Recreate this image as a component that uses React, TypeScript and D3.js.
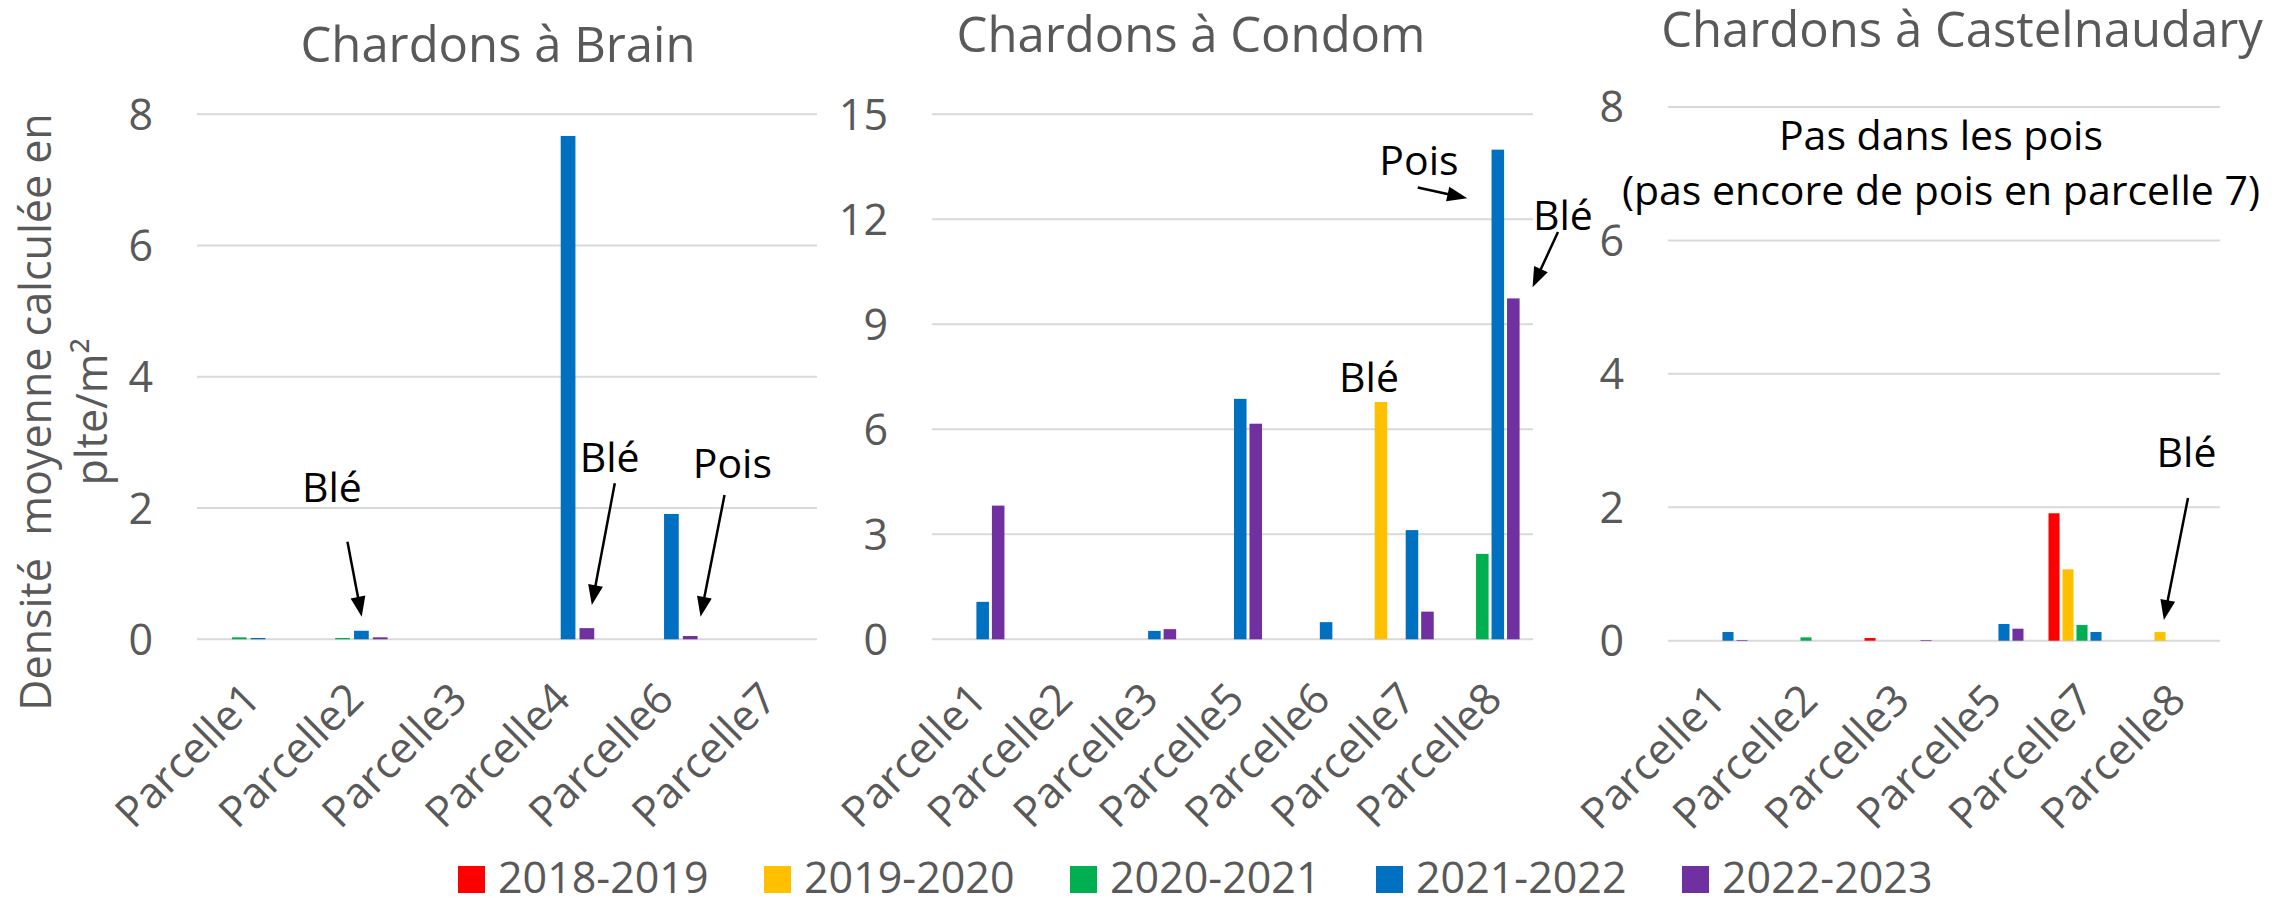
import React from 'react';
import * as d3 from 'd3';

const W = 2293;
const H = 897;
const FONT = "'Open Sans', sans-serif";
const GRAY = '#595959';
const GRID = '#D9D9D9';

// Legend
const legendSeries = ['2018-2019', '2019-2020', '2020-2021', '2021-2022', '2022-2023'];
const legendColors = ['#FF0000', '#FFC000', '#00B050', '#0070C0', '#7030A0'];

// Chardons à Brain
const brainCategories = ['Parcelle1', 'Parcelle2', 'Parcelle3', 'Parcelle4', 'Parcelle6', 'Parcelle7'];
const brainSeries = ['2019-2020', '2020-2021', '2021-2022', '2022-2023'];
const brain2019_2020 = [0, 0, 0, 0, 0, 0];
const brain2020_2021 = [0.03, 0.02, 0, 0, 0, 0];
const brain2021_2022 = [0.02, 0.13, 0, 7.67, 1.91, 0];
const brain2022_2023 = [0, 0.03, 0, 0.17, 0.05, 0];
const brainTicks = [0, 2, 4, 6, 8];

// Chardons à Condom
const condomCategories = ['Parcelle1', 'Parcelle2', 'Parcelle3', 'Parcelle5', 'Parcelle6', 'Parcelle7', 'Parcelle8'];
const condomSeries = ['2019-2020', '2020-2021', '2021-2022', '2022-2023'];
const condom2019_2020 = [0, 0, 0, 0, 0, 6.78, 0];
const condom2020_2021 = [0, 0, 0, 0, 0, 0, 2.44];
const condom2021_2022 = [1.07, 0, 0.24, 6.87, 0.49, 3.12, 13.99];
const condom2022_2023 = [3.82, 0, 0.29, 6.16, 0, 0.79, 9.74];
const condomTicks = [0, 3, 6, 9, 12, 15];

// Chardons à Castelnaudary
const castelCategories = ['Parcelle1', 'Parcelle2', 'Parcelle3', 'Parcelle5', 'Parcelle7', 'Parcelle8'];
const castelSeries = ['2018-2019', '2019-2020', '2020-2021', '2021-2022', '2022-2023'];
const castel2018_2019 = [0, 0, 0.04, 0, 1.91, 0];
const castel2019_2020 = [0, 0, 0, 0, 1.07, 0.13];
const castel2020_2021 = [0, 0.05, 0, 0, 0.235, 0];
const castel2021_2022 = [0.13, 0, 0, 0.25, 0.13, 0];
const castel2022_2023 = [0.01, 0, 0.01, 0.18, 0, 0];
const castelTicks = [0, 2, 4, 6, 8];

// annotations: text position in (category units, value units); arrow from -> to
const brainNotes = [
  { text: 'Blé', u: 1.306, v: 2.097, arrow: [1.456, 1.487, 1.594, 0.345] },
  { text: 'Blé', u: 3.994, v: 2.554, arrow: [4.043, 2.377, 3.821, 0.523] },
  { text: 'Pois', u: 5.181, v: 2.458, arrow: [5.105, 2.198, 4.873, 0.344] },
];
const condomNotes = [
  { text: 'Pois', u: 5.672, v: 13.27, arrow: [5.658, 12.91, 6.234, 12.6] },
  { text: 'Blé', u: 7.349, v: 11.69, arrow: [7.291, 11.64, 6.995, 10.06] },
  { text: 'Blé', u: 5.09, v: 7.07 },
];
const castelNotes = [
  { text: 'Pas dans les pois', u: 2.967, v: 7.356 },
  { text: '(pas encore de pois en parcelle 7)', u: 2.967, v: 6.53 },
  { text: 'Blé', u: 5.636, v: 2.61, arrow: [5.652, 2.139, 5.39, 0.31] },
];

type Note = { text: string; u: number; v: number; arrow?: number[] };

type PanelProps = {
  title: string;
  titleX: number;
  titleY: number;
  categories: string[];
  series: string[];
  values: number[][];
  ticks: number[];
  x0: number;
  x1: number;
  yBottom: number;
  yTop: number;
  groupFrac: number;
  barPad: number;
  notes: Note[];
};

function Arrow({ x1, y1, x2, y2 }: { x1: number; y1: number; x2: number; y2: number }) {
  const dx = x2 - x1;
  const dy = y2 - y1;
  const len = Math.sqrt(dx * dx + dy * dy);
  const ux = dx / len;
  const uy = dy / len;
  const hl = 20;
  const hw = 7.5;
  const bx = x2 - ux * hl;
  const by = y2 - uy * hl;
  const p1 = [bx - uy * hw, by + ux * hw];
  const p2 = [bx + uy * hw, by - ux * hw];
  return (
    <g>
      <line x1={x1} y1={y1} x2={bx + ux * 2} y2={by + uy * 2} stroke="#000" strokeWidth={2.5} />
      <polygon points={`${x2},${y2} ${p1[0]},${p1[1]} ${p2[0]},${p2[1]}`} fill="#000" />
    </g>
  );
}

function Panel(p: PanelProps) {
  const xScale = d3.scaleBand<string>().domain(p.categories).range([p.x0, p.x1]).padding(0);
  const groupW = xScale.bandwidth() * p.groupFrac;
  const groupOff = (xScale.bandwidth() - groupW) / 2;
  const xInner = d3
    .scaleBand<string>()
    .domain(p.series)
    .range([0, groupW])
    .paddingInner(p.barPad)
    .paddingOuter(p.barPad / 2);
  const yMax = p.ticks[p.ticks.length - 1];
  const y = d3.scaleLinear().domain([0, yMax]).range([p.yBottom, p.yTop]);
  const ux = d3.scaleLinear().domain([0, p.categories.length]).range([p.x0, p.x1]);

  return (
    <g>
      <text x={p.titleX} y={p.titleY} textAnchor="middle" fontSize={49} fill={GRAY} fontFamily={FONT}>
        {p.title}
      </text>
      {p.ticks.map((t) => (
        <g key={t}>
          <line x1={p.x0} x2={p.x1} y1={y(t)} y2={y(t)} stroke={GRID} strokeWidth={2} />
          <text x={p.x0 - 44} y={y(t)} dy="0.36em" textAnchor="end" fontSize={43} fill={GRAY} fontFamily={FONT}>
            {t}
          </text>
        </g>
      ))}
      {p.series.map((s, si) =>
        p.categories.map((c, ci) => {
          const v = p.values[si][ci];
          if (!v) return null;
          const seriesIdx = legendSeries.indexOf(s);
          return (
            <rect
              key={s + c}
              x={(xScale(c) as number) + groupOff + (xInner(s) as number)}
              y={y(v)}
              width={xInner.bandwidth()}
              height={y(0) - y(v)}
              fill={legendColors[seriesIdx]}
            />
          );
        })
      )}
      {p.categories.map((c) => {
        const cx = (xScale(c) as number) + xScale.bandwidth() / 2;
        return (
          <text
            key={c}
            transform={`translate(${cx + 14},${p.yBottom + 62}) rotate(-45)`}
            textAnchor="end"
            fontSize={43}
            fill={GRAY}
            fontFamily={FONT}
          >
            {c}
          </text>
        );
      })}
      {p.notes.map((n, i) => (
        <g key={i}>
          <text x={ux(n.u)} y={y(n.v)} textAnchor="middle" fontSize={41} fill="#000" fontFamily={FONT}>
            {n.text}
          </text>
          {n.arrow && <Arrow x1={ux(n.arrow[0])} y1={y(n.arrow[1])} x2={ux(n.arrow[2])} y2={y(n.arrow[3])} />}
        </g>
      ))}
    </g>
  );
}

export default function App() {
  return (
    <svg
      width={W}
      height={H}
      viewBox={`0 0 ${W} ${H}`}
      style={{ position: 'absolute', left: 0, top: 0, background: '#fff' }}
    >
      <rect x={0} y={0} width={W} height={H} fill="#fff" />
      <Panel
        title="Chardons à Brain"
        titleX={498}
        titleY={62}
        categories={brainCategories}
        series={brainSeries}
        values={[brain2019_2020, brain2020_2021, brain2021_2022, brain2022_2023]}
        ticks={brainTicks}
        x0={197}
        x1={817}
        yBottom={639.3}
        yTop={114.3}
        groupFrac={0.728}
        barPad={0.218}
        notes={brainNotes}
      />
      <Panel
        title="Chardons à Condom"
        titleX={1191}
        titleY={52}
        categories={condomCategories}
        series={condomSeries}
        values={[condom2019_2020, condom2020_2021, condom2021_2022, condom2022_2023]}
        ticks={condomTicks}
        x0={932}
        x1={1533}
        yBottom={639.3}
        yTop={114.3}
        groupFrac={0.722}
        barPad={0.19}
        notes={condomNotes}
      />
      <Panel
        title="Chardons à Castelnaudary"
        titleX={1962}
        titleY={47}
        categories={castelCategories}
        series={castelSeries}
        values={[castel2018_2019, castel2019_2020, castel2020_2021, castel2021_2022, castel2022_2023]}
        ticks={castelTicks}
        x0={1668}
        x1={2220}
        yBottom={640.7}
        yTop={107}
        groupFrac={0.76}
        barPad={0.21}
        notes={castelNotes}
      />
      <g transform="translate(0,412) rotate(-90)" fontFamily={FONT} fontSize={43} fill={GRAY} textAnchor="middle">
        <text x={0} y={51} style={{ whiteSpace: 'pre' }}>
          {'Densité  moyenne calculée en'}
        </text>
        <text x={0} y={107}>
          plte/m²
        </text>
      </g>
      {legendSeries.map((s, i) => (
        <g key={s} transform={`translate(${458 + i * 306},0)`}>
          <rect x={0} y={866} width={27} height={27} fill={legendColors[i]} />
          <text x={40} y={893} fontSize={43} fill={GRAY} fontFamily={FONT}>
            {s}
          </text>
        </g>
      ))}
    </svg>
  );
}
